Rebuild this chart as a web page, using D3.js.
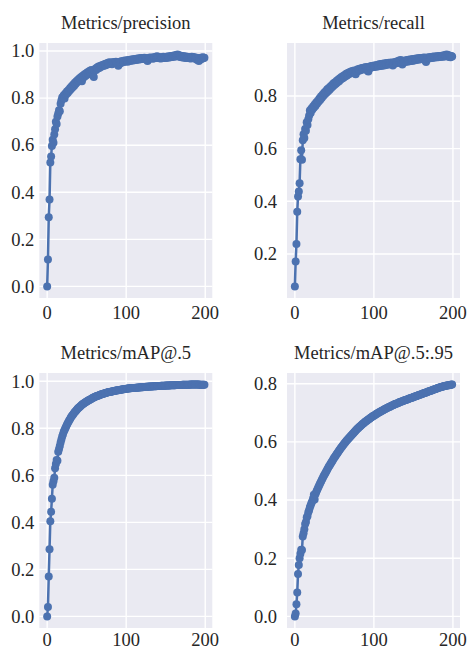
<!DOCTYPE html>
<html>
<head>
<meta charset="utf-8">
<script src="https://cdn.jsdelivr.net/npm/d3@7"></script>
<style>
  body { margin: 0; background: #fff; }
  text { font-family: "Liberation Serif", "Times New Roman", serif; fill: #262626; }
</style>
</head>
<body>
<script>
// metrics per epoch
var precision = [
  0.000, 0.114, 0.294, 0.369, 0.527, 0.552, 0.597, 0.623, 0.610, 0.645,
  0.668, 0.700, 0.690, 0.722, 0.735, 0.748, 0.744, 0.776, 0.790, 0.803,
  0.805, 0.812, 0.798, 0.820, 0.815, 0.828, 0.822, 0.835, 0.830, 0.843,
  0.838, 0.850, 0.845, 0.858, 0.852, 0.865, 0.860, 0.872, 0.868, 0.878,
  0.874, 0.885, 0.880, 0.890, 0.872, 0.895, 0.888, 0.900, 0.893, 0.905,
  0.898, 0.910, 0.904, 0.912, 0.916, 0.908, 0.920, 0.914, 0.896, 0.890,
  0.918, 0.925, 0.920, 0.930, 0.926, 0.934, 0.928, 0.936, 0.932, 0.940,
  0.936, 0.942, 0.938, 0.945, 0.940, 0.947, 0.943, 0.950, 0.945, 0.952,
  0.946, 0.950, 0.944, 0.952, 0.948, 0.954, 0.949, 0.955, 0.950, 0.945,
  0.938, 0.950, 0.955, 0.948, 0.957, 0.952, 0.958, 0.954, 0.960, 0.956,
  0.958, 0.961, 0.955, 0.962, 0.958, 0.963, 0.959, 0.964, 0.960, 0.965,
  0.961, 0.966, 0.962, 0.967, 0.963, 0.968, 0.964, 0.969, 0.965, 0.970,
  0.966, 0.971, 0.967, 0.972, 0.968, 0.971, 0.963, 0.958, 0.966, 0.972,
  0.968, 0.973, 0.969, 0.972, 0.967, 0.974, 0.970, 0.975, 0.971, 0.978,
  0.972, 0.975, 0.969, 0.973, 0.968, 0.974, 0.970, 0.976, 0.971, 0.975,
  0.970, 0.976, 0.972, 0.977, 0.973, 0.978, 0.974, 0.979, 0.975, 0.980,
  0.976, 0.981, 0.977, 0.983, 0.978, 0.985, 0.979, 0.982, 0.975, 0.980,
  0.974, 0.979, 0.973, 0.978, 0.972, 0.977, 0.971, 0.976, 0.970, 0.975,
  0.969, 0.974, 0.968, 0.976, 0.970, 0.975, 0.969, 0.973, 0.966, 0.972,
  0.962, 0.970, 0.958, 0.968, 0.964, 0.972, 0.967, 0.974, 0.970, 0.972
];

var recall = [
  0.077, 0.172, 0.238, 0.360, 0.418, 0.437, 0.469, 0.560, 0.594, 0.558,
  0.632, 0.655, 0.640, 0.675, 0.668, 0.700, 0.690, 0.712, 0.725, 0.745,
  0.735, 0.752, 0.748, 0.760, 0.755, 0.768, 0.762, 0.775, 0.770, 0.782,
  0.778, 0.790, 0.785, 0.798, 0.792, 0.805, 0.800, 0.812, 0.806, 0.818,
  0.812, 0.825, 0.818, 0.830, 0.824, 0.836, 0.830, 0.842, 0.836, 0.848,
  0.842, 0.852, 0.846, 0.858, 0.852, 0.862, 0.856, 0.867, 0.862, 0.872,
  0.866, 0.876, 0.870, 0.880, 0.875, 0.884, 0.878, 0.887, 0.882, 0.890,
  0.885, 0.893, 0.888, 0.895, 0.890, 0.897, 0.885, 0.882, 0.893, 0.900,
  0.895, 0.902, 0.897, 0.904, 0.899, 0.906, 0.900, 0.907, 0.902, 0.909,
  0.903, 0.910, 0.896, 0.893, 0.905, 0.912, 0.907, 0.914, 0.909, 0.915,
  0.910, 0.916, 0.911, 0.917, 0.912, 0.918, 0.913, 0.920, 0.914, 0.921,
  0.915, 0.922, 0.916, 0.923, 0.917, 0.924, 0.918, 0.925, 0.919, 0.926,
  0.920, 0.926, 0.921, 0.927, 0.916, 0.922, 0.928, 0.923, 0.930, 0.925,
  0.932, 0.926, 0.935, 0.928, 0.936, 0.925, 0.919, 0.930, 0.934, 0.929,
  0.935, 0.930, 0.936, 0.931, 0.937, 0.932, 0.938, 0.933, 0.939, 0.934,
  0.940, 0.935, 0.941, 0.936, 0.942, 0.937, 0.943, 0.938, 0.944, 0.939,
  0.944, 0.940, 0.945, 0.941, 0.946, 0.935, 0.929, 0.940, 0.946, 0.942,
  0.947, 0.943, 0.948, 0.944, 0.949, 0.945, 0.950, 0.946, 0.950, 0.947,
  0.951, 0.947, 0.952, 0.948, 0.952, 0.949, 0.953, 0.949, 0.954, 0.950,
  0.955, 0.951, 0.957, 0.952, 0.955, 0.948, 0.953, 0.947, 0.952, 0.950
];

var map50 = [
  0.000, 0.040, 0.170, 0.286, 0.405, 0.445, 0.500, 0.560, 0.575, 0.590,
  0.630, 0.648, 0.665, 0.662, 0.700, 0.712, 0.725, 0.740, 0.752, 0.765,
  0.775, 0.785, 0.793, 0.800, 0.808, 0.815, 0.822, 0.828, 0.834, 0.840,
  0.846, 0.851, 0.856, 0.860, 0.865, 0.869, 0.873, 0.877, 0.881, 0.885,
  0.888, 0.891, 0.894, 0.897, 0.900, 0.903, 0.905, 0.908, 0.910, 0.912,
  0.914, 0.916, 0.918, 0.920, 0.922, 0.924, 0.926, 0.928, 0.930, 0.931,
  0.933, 0.934, 0.936, 0.937, 0.939, 0.940, 0.941, 0.943, 0.944, 0.945,
  0.946, 0.947, 0.948, 0.949, 0.950, 0.951, 0.952, 0.953, 0.954, 0.955,
  0.956, 0.956, 0.957, 0.958, 0.959, 0.959, 0.960, 0.961, 0.961, 0.962,
  0.962, 0.963, 0.963, 0.964, 0.965, 0.965, 0.966, 0.966, 0.967, 0.967,
  0.968, 0.968, 0.969, 0.969, 0.970, 0.970, 0.970, 0.971, 0.971, 0.972,
  0.972, 0.972, 0.973, 0.973, 0.973, 0.974, 0.974, 0.974, 0.975, 0.975,
  0.975, 0.975, 0.976, 0.976, 0.976, 0.977, 0.977, 0.977, 0.977, 0.978,
  0.978, 0.978, 0.978, 0.978, 0.979, 0.979, 0.979, 0.979, 0.979, 0.980,
  0.980, 0.980, 0.980, 0.980, 0.981, 0.981, 0.981, 0.981, 0.981, 0.981,
  0.982, 0.982, 0.982, 0.982, 0.982, 0.982, 0.983, 0.983, 0.983, 0.983,
  0.983, 0.983, 0.983, 0.984, 0.984, 0.984, 0.984, 0.984, 0.984, 0.984,
  0.984, 0.985, 0.985, 0.985, 0.985, 0.985, 0.985, 0.985, 0.985, 0.985,
  0.985, 0.986, 0.986, 0.986, 0.986, 0.986, 0.986, 0.986, 0.986, 0.986,
  0.986, 0.986, 0.986, 0.985, 0.985, 0.985, 0.985, 0.985, 0.985, 0.985
];

var map5095 = [
  0.000, 0.010, 0.042, 0.082, 0.146, 0.177, 0.200, 0.215, 0.229, 0.228,
  0.275, 0.286, 0.300, 0.318, 0.325, 0.340, 0.345, 0.358, 0.365, 0.375,
  0.382, 0.390, 0.396, 0.405, 0.418, 0.402, 0.420, 0.428, 0.434, 0.440,
  0.446, 0.452, 0.458, 0.463, 0.469, 0.474, 0.480, 0.485, 0.490, 0.495,
  0.500, 0.505, 0.510, 0.515, 0.519, 0.524, 0.528, 0.533, 0.537, 0.542,
  0.546, 0.550, 0.554, 0.558, 0.562, 0.566, 0.570, 0.574, 0.578, 0.582,
  0.585, 0.589, 0.592, 0.596, 0.599, 0.603, 0.606, 0.609, 0.612, 0.615,
  0.618, 0.621, 0.624, 0.627, 0.630, 0.633, 0.636, 0.639, 0.642, 0.645,
  0.647, 0.650, 0.652, 0.655, 0.657, 0.660, 0.662, 0.664, 0.667, 0.669,
  0.671, 0.673, 0.675, 0.677, 0.679, 0.681, 0.683, 0.685, 0.687, 0.689,
  0.690, 0.692, 0.694, 0.696, 0.697, 0.699, 0.701, 0.702, 0.704, 0.705,
  0.707, 0.708, 0.710, 0.711, 0.713, 0.714, 0.716, 0.717, 0.718, 0.720,
  0.721, 0.722, 0.724, 0.725, 0.726, 0.727, 0.729, 0.730, 0.731, 0.732,
  0.733, 0.734, 0.736, 0.737, 0.738, 0.739, 0.740, 0.741, 0.742, 0.743,
  0.744, 0.745, 0.746, 0.747, 0.748, 0.749, 0.750, 0.751, 0.752, 0.753,
  0.754, 0.755, 0.756, 0.757, 0.758, 0.759, 0.760, 0.761, 0.762, 0.763,
  0.764, 0.765, 0.766, 0.767, 0.768, 0.769, 0.770, 0.771, 0.772, 0.773,
  0.774, 0.775, 0.776, 0.777, 0.778, 0.779, 0.780, 0.781, 0.782, 0.783,
  0.784, 0.785, 0.786, 0.787, 0.788, 0.789, 0.790, 0.790, 0.791, 0.792,
  0.792, 0.793, 0.794, 0.794, 0.795, 0.795, 0.796, 0.796, 0.797, 0.797
];

var titles = ["Metrics/precision", "Metrics/recall", "Metrics/mAP@.5", "Metrics/mAP@.5:.95"];
var xTicks = [0, 100, 200];
var yTicksPrecision = [0.0, 0.2, 0.4, 0.6, 0.8, 1.0];
var yTicksRecall = [0.2, 0.4, 0.6, 0.8];
var yTicksMap50 = [0.0, 0.2, 0.4, 0.6, 0.8, 1.0];
var yTicksMap5095 = [0.0, 0.2, 0.4, 0.6, 0.8];

var W = 467, H = 651;
var color = "#4C72B0";

// plot boxes (left, top), y label gap, x label offset
var panels = [
  {title: titles[0], values: precision, ticks: yTicksPrecision, left: 39.3, top: 43, gap: 5, xoff: 21},
  {title: titles[1], values: recall, ticks: yTicksRecall, left: 287, top: 43, gap: 10, xoff: 21},
  {title: titles[2], values: map50, ticks: yTicksMap50, left: 39.3, top: 373, gap: 5, xoff: 18},
  {title: titles[3], values: map5095, ticks: yTicksMap5095, left: 287, top: 373, gap: 10, xoff: 18}
];
var pw = 173, ph = 255;

var svg = d3.select("body").append("svg")
    .attr("width", W)
    .attr("height", H);

panels.forEach(function(p) {
  var n = p.values.length;
  // matplotlib style 5% margins
  var xPad = (n - 1) * 0.05;
  var x = d3.scaleLinear().domain([-xPad, n - 1 + xPad]).range([0, pw]);
  var ext = d3.extent(p.values);
  var yPad = (ext[1] - ext[0]) * 0.05;
  var y = d3.scaleLinear().domain([ext[0] - yPad, ext[1] + yPad]).range([ph, 0]);

  var g = svg.append("g")
      .attr("transform", "translate(" + p.left + "," + p.top + ")");

  g.append("rect")
      .attr("width", pw)
      .attr("height", ph)
      .attr("fill", "#EAEAF2");

  // grid
  g.selectAll("line.xgrid").data(xTicks).enter().append("line")
      .attr("class", "xgrid")
      .attr("x1", function(d) { return x(d); })
      .attr("x2", function(d) { return x(d); })
      .attr("y1", 0).attr("y2", ph)
      .attr("stroke", "#fff").attr("stroke-width", 1.4);

  g.selectAll("line.ygrid").data(p.ticks).enter().append("line")
      .attr("class", "ygrid")
      .attr("y1", function(d) { return y(d); })
      .attr("y2", function(d) { return y(d); })
      .attr("x1", 0).attr("x2", pw)
      .attr("stroke", "#fff").attr("stroke-width", 1.4);

  // tick labels
  g.selectAll("text.xt").data(xTicks).enter().append("text")
      .attr("class", "xt")
      .attr("x", function(d) { return x(d); })
      .attr("y", ph + p.xoff)
      .attr("text-anchor", "middle")
      .attr("font-size", "18.5px")
      .text(function(d) { return d; });

  g.selectAll("text.yt").data(p.ticks).enter().append("text")
      .attr("class", "yt")
      .attr("x", -p.gap)
      .attr("y", function(d) { return y(d); })
      .attr("dy", "0.34em")
      .attr("text-anchor", "end")
      .attr("font-size", "18.5px")
      .text(function(d) { return d3.format(".1f")(d); });

  g.append("text")
      .attr("x", pw / 2)
      .attr("y", -14)
      .attr("text-anchor", "middle")
      .attr("font-size", "18.5px")
      .text(p.title);

  var line = d3.line()
      .x(function(d, i) { return x(i); })
      .y(function(d) { return y(d); });

  g.append("path")
      .datum(p.values)
      .attr("d", line)
      .attr("fill", "none")
      .attr("stroke", color)
      .attr("stroke-width", 2.5)
      .attr("stroke-linejoin", "round");

  g.selectAll("circle").data(p.values).enter().append("circle")
      .attr("cx", function(d, i) { return x(i); })
      .attr("cy", function(d) { return y(d); })
      .attr("r", 4)
      .attr("fill", color);
});
</script>
</body>
</html>
